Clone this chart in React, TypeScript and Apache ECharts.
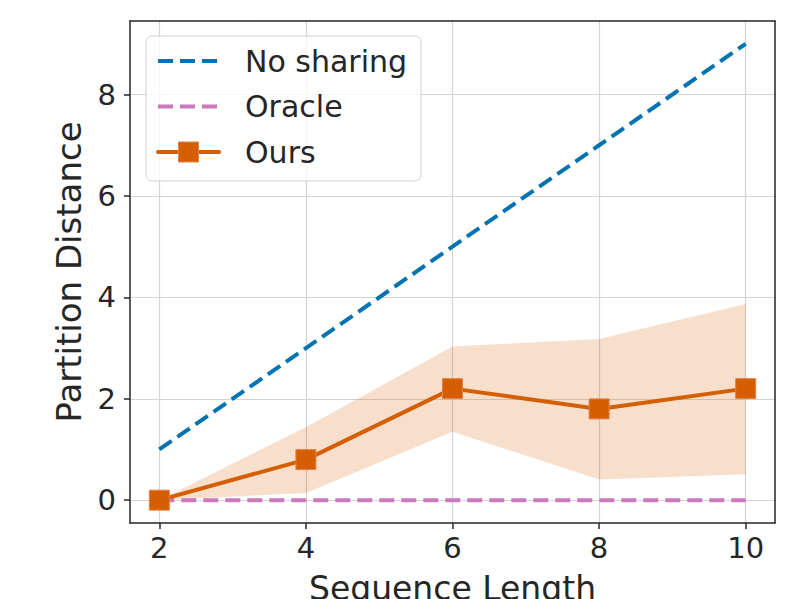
import React, { useEffect, useRef } from 'react';
import * as echarts from 'echarts';

const seqLengths = [2, 4, 6, 8, 10];
const noSharing = [1, 3, 5, 7, 9];
const oracle = [0, 0, 0, 0, 0];
const ours = [0, 0.8, 2.2, 1.8, 2.2];
const oursLower = [0, 0.14, 1.35, 0.41, 0.51];
const oursUpper = [0, 1.44, 3.03, 3.18, 3.87];
const xTicks = [2, 4, 6, 8, 10];
const yTicks = [0, 2, 4, 6, 8];

const TEXT = '#262626';
const FONT = 'DejaVu Sans';
const BLUE = '#0173b2';
const PINK = '#cc78bc';
const ORANGE = '#d55e00';

export default function App() {
  const ref = useRef<HTMLDivElement>(null);
  useEffect(() => {
    if (!ref.current) return;
    const chart = echarts.init(ref.current, undefined, { renderer: 'svg' });
    const pairs = (ys: number[]) => seqLengths.map((x, i) => [x, ys[i]]);
    const bandData = seqLengths.map((x, i) => [x, oursLower[i], oursUpper[i]]);
    const legendItems = [
      { name: 'No sharing', color: BLUE, dashed: true, marker: false },
      { name: 'Oracle', color: PINK, dashed: true, marker: false },
      { name: 'Ours', color: ORANGE, dashed: false, marker: true },
    ];
    const legendEls: any[] = [
      {
        type: 'rect',
        shape: { x: 146, y: 36, width: 275, height: 145, r: 6 },
        style: { fill: 'rgba(255,255,255,0.8)', stroke: '#d0d0d0', lineWidth: 1 },
        z: 100,
      },
    ];
    legendItems.forEach((it, i) => {
      const y = 61 + i * 45.5;
      legendEls.push({
        type: 'line',
        shape: { x1: 158, y1: y, x2: 219, y2: y },
        style: {
          stroke: it.color,
          lineWidth: 4,
          lineDash: it.dashed ? [15, 7] : null,
          lineCap: it.dashed ? 'butt' : 'round',
        },
        z: 101,
      });
      if (it.marker) {
        legendEls.push({
          type: 'rect',
          shape: { x: 178.5, y: y - 10, width: 20, height: 20 },
          style: { fill: ORANGE, stroke: '#e0844a', lineWidth: 1 },
          z: 102,
        });
      }
      legendEls.push({
        type: 'text',
        x: 245,
        y: y,
        style: {
          text: it.name,
          fill: TEXT,
          font: `30px "${FONT}"`,
          verticalAlign: 'middle',
          align: 'left',
        },
        z: 102,
      });
    });

    const option: any = {
      animation: false,
      backgroundColor: '#ffffff',
      grid: { left: 130, top: 21, width: 645, height: 502, containLabel: false, outerBoundsMode: 'none' },
      xAxis: [
        {
          type: 'value',
          min: 1.6,
          max: 10.4,
          name: 'Sequence Length',
          nameLocation: 'middle',
          nameGap: 49,
          nameTextStyle: { color: TEXT, fontSize: 33, fontFamily: FONT },
          axisLine: { show: true, onZero: false, lineStyle: { color: TEXT, width: 1.5 } },
          axisTick: { show: true, length: 6, customValues: xTicks, lineStyle: { color: TEXT, width: 1.5 } },
          axisLabel: { customValues: xTicks, color: TEXT, fontSize: 29, fontFamily: FONT, margin: 10 },
          splitLine: { show: true, lineStyle: { color: '#d4d4d4', width: 1.2 } },
        },
        {
          type: 'value',
          position: 'top',
          min: 1.6,
          max: 10.4,
          axisLine: { show: true, onZero: false, lineStyle: { color: TEXT, width: 1.5 } },
          axisTick: { show: false },
          axisLabel: { show: false },
          splitLine: { show: false },
        },
      ],
      yAxis: [
        {
          type: 'value',
          min: -0.45,
          max: 9.45,
          name: 'Partition Distance',
          nameLocation: 'middle',
          nameGap: 44,
          nameTextStyle: { color: TEXT, fontSize: 34, fontFamily: FONT },
          axisLine: { show: true, onZero: false, lineStyle: { color: TEXT, width: 1.5 } },
          axisTick: { show: true, length: 6, customValues: yTicks, lineStyle: { color: TEXT, width: 1.5 } },
          axisLabel: { customValues: yTicks, color: TEXT, fontSize: 29, fontFamily: FONT, margin: 14 },
          splitLine: { show: true, lineStyle: { color: '#d4d4d4', width: 1.2 } },
        },
        {
          type: 'value',
          position: 'right',
          min: -0.45,
          max: 9.45,
          axisLine: { show: true, onZero: false, lineStyle: { color: TEXT, width: 1.5 } },
          axisTick: { show: false },
          axisLabel: { show: false },
          splitLine: { show: false },
        },
      ],
      series: [
        {
          type: 'custom',
          data: bandData,
          silent: true,
          encode: { x: 0, y: [1, 2] },
          renderItem: (params: any, api: any) => {
            if (params.dataIndex !== 0) return null;
            const upperPts = seqLengths.map((x, i) => api.coord([x, oursUpper[i]]));
            const lowerPts = seqLengths.map((x, i) => api.coord([x, oursLower[i]])).reverse();
            return {
              type: 'polygon',
              shape: { points: upperPts.concat(lowerPts) },
              style: { fill: 'rgba(213,94,0,0.2)', stroke: 'none' },
            };
          },
        },
        {
          name: 'No sharing',
          type: 'line',
          data: pairs(noSharing),
          symbol: 'none',
          lineStyle: { color: BLUE, width: 4, type: [15, 7] },
        },
        {
          name: 'Oracle',
          type: 'line',
          data: pairs(oracle),
          symbol: 'none',
          lineStyle: { color: PINK, width: 4, type: [15, 7] },
        },
        {
          name: 'Ours',
          type: 'line',
          data: pairs(ours),
          symbol: 'rect',
          symbolSize: 20,
          lineStyle: { color: ORANGE, width: 4 },
          itemStyle: { color: ORANGE, borderColor: '#e0844a', borderWidth: 1 },
        },
      ],
      graphic: legendEls,
    };
    chart.setOption(option);
    return () => chart.dispose();
  }, []);
  return <div ref={ref} style={{ position: 'fixed', left: 0, top: 0, width: 790, height: 599 }} />;
}
